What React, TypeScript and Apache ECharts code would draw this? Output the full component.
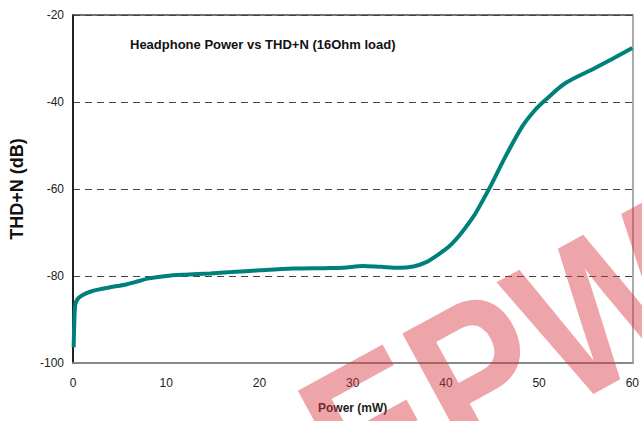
import React, { useEffect, useRef } from "react";
import * as echarts from "echarts";

const powerMW = [0.07, 0.15, 0.25, 0.5, 1, 2, 3, 4, 5.8, 7, 8, 10, 12, 14.7, 17, 20, 23.6, 27, 29, 31.1, 33, 35, 36.5, 37.9, 39.1, 40.3, 41.4, 42.3, 43.2, 44.6, 46.4, 48.2, 49.5, 50.7, 52.8, 56, 60];
const thdN = [-96.4, -90, -86.5, -85.3, -84.4, -83.5, -83, -82.6, -81.9, -81.2, -80.6, -80, -79.7, -79.4, -79.1, -78.7, -78.3, -78.2, -78.1, -77.7, -77.9, -78.1, -77.8, -76.8, -75.2, -73.3, -70.8, -68.3, -65.5, -60.1, -52.5, -45.6, -42, -39.5, -35.7, -32.2, -27.6];
const titleText = "Headphone Power vs THD+N (16Ohm load)";
const xName = "Power (mW)";
const yName = "THD+N (dB)";
const watermark = "EPW";

const FONT = "Arial, 'Liberation Sans', sans-serif";

export default function App() {
  const ref = useRef<HTMLDivElement>(null);
  useEffect(() => {
    if (!ref.current) return;
    const chart = echarts.init(ref.current, null, { renderer: "svg" });
    const data = powerMW.map((p, i) => [p, thdN[i]]);
    chart.setOption({
      animation: false,
      backgroundColor: "#ffffff",
      title: {
        text: titleText,
        left: 130,
        top: 38,
        padding: 0,
        textStyle: { fontSize: 13, fontWeight: "bold", color: "#111", fontFamily: FONT },
      },
      grid: { left: 72, right: 8, top: 15, bottom: 58 },
      xAxis: [
        {
          type: "value",
          min: 0,
          max: 60,
          interval: 10,
          name: xName,
          nameLocation: "middle",
          nameGap: 39,
          nameTextStyle: { fontSize: 12, fontWeight: "bold", color: "#222", fontFamily: FONT },
          axisLine: { show: true, onZero: false, lineStyle: { color: "#888", width: 2 } },
          axisTick: { show: false },
          splitLine: { show: false },
          axisLabel: { fontSize: 12, color: "#222", margin: 14, fontFamily: FONT },
        },
        {
          type: "value",
          position: "top",
          min: 0,
          max: 60,
          interval: 10,
          axisLine: { show: true, onZero: false, lineStyle: { color: "#444", width: 1.5 } },
          axisTick: { show: false },
          splitLine: { show: false },
          axisLabel: { show: false },
        },
      ],
      yAxis: [
        {
          type: "value",
          min: -100,
          max: -20,
          interval: 20,
          name: yName,
          nameLocation: "middle",
          nameGap: 47,
          nameTextStyle: { fontSize: 18, fontWeight: "bold", color: "#111", fontFamily: FONT },
          axisLine: { show: true, onZero: false, lineStyle: { color: "#222", width: 2 } },
          axisTick: { show: false },
          splitLine: { show: true, lineStyle: { color: "#444", width: 1, type: [7, 5] } },
          axisLabel: { fontSize: 12, color: "#222", margin: 9, fontFamily: FONT },
        },
        {
          type: "value",
          position: "right",
          min: -100,
          max: -20,
          interval: 20,
          axisLine: { show: true, onZero: false, lineStyle: { color: "#aaa", width: 2 } },
          axisTick: { show: false },
          splitLine: { show: false },
          axisLabel: { show: false },
        },
      ],
      series: [
        {
          type: "line",
          data,
          smooth: 0.3,
          showSymbol: false,
          symbol: "none",
          lineStyle: { color: "#00807b", width: 4 },
          z: 5,
        },
      ],
      graphic: [
        {
          type: "text",
          x: 500,
          y: 362,
          rotation: 0.5,
          scaleX: 0.85,
          z: 100,
          silent: true,
          style: {
            text: watermark,
            fontSize: 210,
            fontWeight: "bold",
            fontFamily: FONT,
            fill: "rgba(215,55,65,0.45)",
            align: "center",
            verticalAlign: "middle",
          },
        },
      ],
    });
    return () => chart.dispose();
  }, []);
  return (
    <div
      ref={ref}
      style={{ position: "fixed", left: 0, top: 0, width: 642, height: 421 }}
    />
  );
}
